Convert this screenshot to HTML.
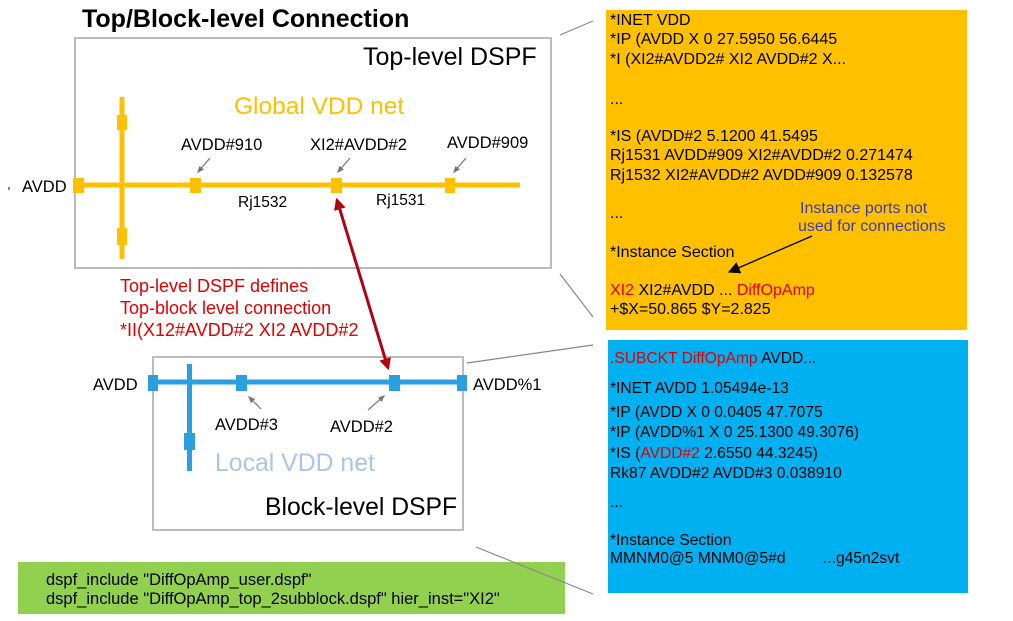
<!DOCTYPE html>
<html><head><meta charset="utf-8"><style>
html,body{margin:0;padding:0;background:#fff;}
svg{display:block;font-family:"Liberation Sans",Arial,sans-serif;}
</style></head><body>
<svg width="1013" height="621" viewBox="0 0 1013 621" xmlns="http://www.w3.org/2000/svg">
<defs>
<marker id="rh" viewBox="0 0 10 10" refX="8" refY="5" markerWidth="4" markerHeight="4" orient="auto-start-reverse"><path d="M0,0 L10,5 L0,10 z" fill="#b40014"/></marker>
<marker id="gh" viewBox="0 0 10 10" refX="8" refY="5" markerWidth="6" markerHeight="6" orient="auto"><path d="M0,1 L10,5 L0,9 z" fill="#777"/></marker>
<marker id="bh" viewBox="0 0 10 10" refX="9" refY="5" markerWidth="12" markerHeight="12" markerUnits="userSpaceOnUse" orient="auto"><path d="M0,0 L10,5 L0,10 z" fill="#000"/></marker>
</defs>

<text x="82" y="27" font-size="25" font-weight="bold" fill="#000">Top/Block-level Connection</text>

<rect x="75" y="38" width="476" height="230" fill="#fff" stroke="#bbb" stroke-width="2"/>
<text x="363" y="65" font-size="25" fill="#000">Top-level DSPF</text>
<text x="234" y="114" font-size="24.5" fill="#ffc000">Global VDD net</text>
<g fill="#ffc000">
<rect x="76" y="182.5" width="444" height="5"/>
<rect x="119.5" y="97" width="5" height="162"/>
<rect x="73" y="178" width="11" height="15"/>
<rect x="117" y="115" width="10" height="15"/>
<rect x="117" y="228" width="10" height="17"/>
<rect x="190" y="178" width="11" height="15"/>
<rect x="331" y="178" width="11" height="15"/>
<rect x="445" y="178" width="10" height="15"/>
</g>
<g font-size="16.5" fill="#000">
<text x="22" y="192">AVDD</text>
<text x="181" y="150">AVDD#910</text>
<text x="310" y="150">XI2#AVDD#2</text>
<text x="447" y="148">AVDD#909</text>
<text x="238" y="207" font-size="15.5">Rj1532</text>
<text x="376" y="205" font-size="15.5">Rj1531</text>
</g>
<rect x="8" y="187" width="2" height="3" fill="#888"/>
<g stroke="#777" stroke-width="1.2" marker-end="url(#gh)">
<line x1="210" y1="158" x2="198" y2="172"/>
<line x1="350" y1="158" x2="338" y2="172"/>
<line x1="466" y1="158" x2="454" y2="172"/>
</g>

<g font-size="18" fill="#e00000">
<text x="120" y="292">Top-level DSPF defines</text>
<text x="120" y="314">Top-block level connection</text>
<text x="120" y="336">*II(X12#AVDD#2 XI2 AVDD#2</text>
</g>

<rect x="153" y="357" width="310" height="173" fill="#fff" stroke="#bbb" stroke-width="2"/>
<text x="265" y="515" font-size="24.7" fill="#000">Block-level DSPF</text>
<text x="215" y="471" font-size="24.8" fill="#a9c5ea">Local VDD net</text>
<g fill="#2aa0e0">
<rect x="150" y="379.5" width="314" height="5"/>
<rect x="187" y="364" width="5" height="107"/>
<rect x="148" y="375" width="10" height="16"/>
<rect x="236" y="375" width="11" height="16"/>
<rect x="389" y="375" width="11" height="16"/>
<rect x="457" y="375" width="10" height="16"/>
<rect x="184" y="433" width="11" height="17"/>
</g>
<g font-size="16.5" fill="#000">
<text x="93" y="390">AVDD</text>
<text x="473" y="390">AVDD%1</text>
<text x="215" y="430">AVDD#3</text>
<text x="330" y="432">AVDD#2</text>
</g>
<g stroke="#777" stroke-width="1.2" marker-end="url(#gh)">
<line x1="261" y1="409" x2="249" y2="397"/>
<line x1="368" y1="410" x2="384" y2="396"/>
</g>

<line x1="337" y1="200" x2="388" y2="368" stroke="#b40014" stroke-width="3" marker-start="url(#rh)" marker-end="url(#rh)"/>

<rect x="18" y="562" width="547" height="52" fill="#92d050"/>
<g font-size="16.5" fill="#000">
<text x="46" y="585">dspf_include "DiffOpAmp_user.dspf"</text>
<text x="46" y="604">dspf_include "DiffOpAmp_top_2subblock.dspf" hier_inst="XI2"</text>
</g>

<g stroke="#888" stroke-width="1.2">
<line x1="560" y1="35" x2="593" y2="21"/>
<line x1="560" y1="274" x2="593" y2="317"/>
<line x1="467" y1="363" x2="593" y2="345"/>
<line x1="476" y1="547" x2="593" y2="594"/>
</g>

<rect x="606" y="10" width="361" height="320" fill="#ffc000"/>
<g font-size="16" fill="#000">
<text x="610" y="25">*INET VDD</text>
<text x="610" y="44">*IP (AVDD X 0 27.5950 56.6445</text>
<text x="610" y="64">*I (XI2#AVDD2# XI2 AVDD#2 X...</text>
<text x="610" y="104">...</text>
<text x="610" y="141">*IS (AVDD#2 5.1200 41.5495</text>
<text x="610" y="160">Rj1531 AVDD#909 XI2#AVDD#2 0.271474</text>
<text x="610" y="180">Rj1532 XI2#AVDD#2 AVDD#909 0.132578</text>
<text x="610" y="218">...</text>
<text x="610" y="257">*Instance Section</text>
<text x="610" y="295"><tspan fill="#e00000">XI2</tspan> XI2#AVDD ... <tspan fill="#e00000">DiffOpAmp</tspan></text>
<text x="610" y="314">+$X=50.865 $Y=2.825</text>
</g>
<g font-size="16" fill="#3c3caa">
<text x="800" y="213">Instance ports not</text>
<text x="798" y="231">used for connections</text>
</g>
<line x1="812" y1="236" x2="729" y2="272" stroke="#000" stroke-width="1.3" marker-end="url(#bh)"/>

<rect x="608" y="340" width="360" height="253" fill="#00b0f0"/>
<g font-size="15.6" fill="#000">
<text x="610" y="363"><tspan fill="#e00000">.SUBCKT DiffOpAmp</tspan> AVDD...</text>
<text x="610" y="393">*INET AVDD 1.05494e-13</text>
<text x="610" y="417">*IP (AVDD X 0 0.0405 47.7075</text>
<text x="610" y="437">*IP (AVDD%1 X 0 25.1300 49.3076)</text>
<text x="610" y="458">*IS (<tspan fill="#e00000">AVDD#2</tspan> 2.6550 44.3245)</text>
<text x="610" y="478">Rk87 AVDD#2 AVDD#3 0.038910</text>
<text x="610" y="507">...</text>
<text x="610" y="545">*Instance Section</text>
<text x="610" y="563">MMNM0@5 MNM0@5#d<tspan x="823">...g45n2svt</tspan></text>
</g>
</svg>
</body></html>
